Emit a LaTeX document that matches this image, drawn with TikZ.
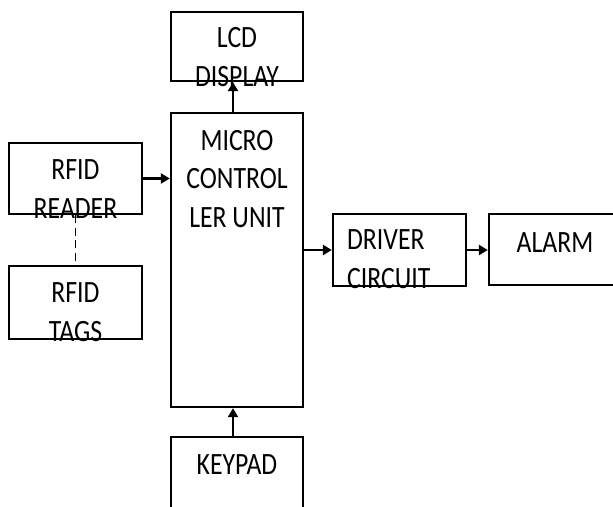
\documentclass[tikz,border=0pt]{standalone}
\usepackage{fontspec}
\setmainfont{Carlito}
\usetikzlibrary{arrows.meta}
\begin{document}
\begin{tikzpicture}[x=1pt,y=-1pt,
  box/.style={draw=black,line width=2.3pt,fill=white,inner sep=0pt},
  txt/.style={font=\fontsize{31}{38.5}\selectfont,align=center,inner sep=0pt,anchor=base,xscale=0.83,transform shape},
  arr/.style={line width=2.3pt,-{Triangle[length=9pt,width=10pt]}}]
\clip (0,0) rectangle (613,506);
\fill[white] (0,0) rectangle (613,506);
% boxes
\node[box,minimum width=132pt,minimum height=69pt] (lcd) at (237,46.5) {};
\node[box,minimum width=132pt,minimum height=294pt] (mcu) at (237,260) {};
\node[box,minimum width=132pt,minimum height=110pt] (key) at (237,492) {};
\node[box,minimum width=133pt,minimum height=71pt] (reader) at (75.5,178.5) {};
\node[box,minimum width=133pt,minimum height=73pt] (tags) at (75.5,302.5) {};
\node[box,minimum width=133pt,minimum height=72pt] (driver) at (399.5,250) {};
\node[box,minimum width=134pt,minimum height=71pt] (alarm) at (556,249.5) {};
% texts (anchored at the baseline of the last line)
\node[txt] (lcdt) at (237,86) {LCD\\DISPLAY};
\node[txt] (mcut) at (237,227) {MICRO\\CONTROL\\LER UNIT};
\node[txt] (keyt) at (237,474) {KEYPAD};
\node[txt] (readert) at (75.5,218) {RFID\\READER};
\node[txt] (tagst) at (75.5,341) {RFID\\TAGS};
\node[txt,align=left,anchor=base west] (drivert) at (347,288) {DRIVER\\CIRCUIT};
\node[txt] (alarmt) at (555,252) {ALARM};
% connectors
\draw[arr] ([xshift=-4pt]mcu.north) -- ([xshift=-4pt]lcd.south);
\draw[arr] ([xshift=-4pt]key.north) -- ([xshift=-4pt]mcu.south);
\draw[arr] (reader.east) -- (reader.east -| mcu.west);
\draw[arr] (driver.west -| mcu.east) -- (driver.west);
\draw[arr] (driver.east) -- (driver.east -| alarm.west);
\draw[line width=1.9pt,dash pattern=on 8pt off 4.5pt] (reader.south) -- (tags.north);
\end{tikzpicture}
\end{document}
